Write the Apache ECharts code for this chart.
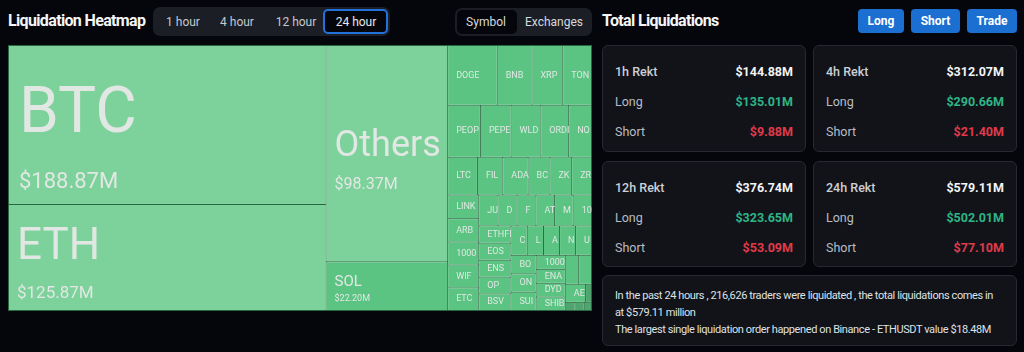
<!DOCTYPE html>
<html>
<head>
<meta charset="utf-8">
<script src="https://cdn.jsdelivr.net/npm/echarts@6/dist/echarts.min.js"></script>
<style>
  html, body { margin: 0; padding: 0; }
  body { width: 1024px; height: 352px; overflow: hidden; background: #05060b; font-family: Roboto, "Noto Sans", sans-serif; color: #fff; position: relative; }
  .abs { position: absolute; }
  .h1 { font-weight: 700; font-size: 16px; letter-spacing: -0.65px; line-height: 20px; color: #f4f5f7; }
  .seg { background: #1b1e25; border-radius: 7px; }
  .segtxt { font-size: 12px; color: #c4c8cf; line-height: 16px; transform: translateX(-50%); white-space: nowrap; }
  .sel { background: #05060b; border-radius: 5px; box-sizing: border-box; }
  .btn { background: #1b6fd1; border-radius: 4px; font-weight: 700; font-size: 12px; color: #fff; text-align: center; line-height: 24px; height: 24px; }
  .card { background: #111318; border: 1px solid #262930; border-radius: 6px; box-sizing: border-box; }
  .row { position: absolute; left: 12px; right: 12px; height: 16px; line-height: 16px; font-size: 12.5px; }
  .row span { position: absolute; }
  .row .k { left: 0; color: #b9bdc5; }
  .row .v { right: 0; font-weight: 700; }
  .info { font-size: 11px; line-height: 17px; color: #dfe2e6; letter-spacing: -0.4px; white-space: nowrap; }
  #heat { position: absolute; left: 8px; top: 45px; width: 584px; height: 266px; }
</style>
</head>
<body>
<div class="abs h1" style="left:8px;top:11px;">Liquidation Heatmap</div>
<div class="abs seg" style="left:153px;top:7px;width:237px;height:29px;"></div>
<div class="abs sel" style="left:323px;top:9px;width:65px;height:25px;border:2px solid #2372dc;"></div>
<div id="ranges"></div>
<div class="abs seg" style="left:455px;top:8px;width:137px;height:28px;"></div>
<div class="abs sel" style="left:457px;top:10px;width:60px;height:24px;"></div>
<div class="abs segtxt" style="left:486px;top:14px;color:#d6d9de;">Symbol</div>
<div class="abs segtxt" style="left:554px;top:14px;color:#d6d9de;">Exchanges</div>

<div class="abs h1" style="left:602px;top:11px;">Total Liquidations</div>
<div class="abs btn" style="left:858px;top:9px;width:46px;">Long</div>
<div class="abs btn" style="left:911px;top:9px;width:49px;">Short</div>
<div class="abs btn" style="left:967px;top:9px;width:50px;">Trade</div>

<div id="cards"></div>
<div class="abs card" style="left:602px;top:275px;width:415px;height:71px;">
  <div class="abs info" style="left:12px;top:11px;">
    In the past 24 hours , 216,626 traders were liquidated , the total liquidations comes in<br>
    at $579.11 million<br>
    The largest single liquidation order happened on Binance - ETHUSDT value $18.48M
  </div>
</div>

<div id="heat"></div>

<script>
// time range tabs
var ranges = ['1 hour', '4 hour', '12 hour', '24 hour'];
var rangeX = [183, 237, 296, 356];

// rekt summary cards
var periods = ['1h Rekt', '4h Rekt', '12h Rekt', '24h Rekt'];
var totals = ['$144.88M', '$312.07M', '$376.74M', '$579.11M'];
var longs = ['$135.01M', '$290.66M', '$323.65M', '$502.01M'];
var shorts = ['$9.88M', '$21.40M', '$53.09M', '$77.10M'];

// 24h liquidations by symbol (million USD)
var coins = ['BTC', 'ETH', 'Others', 'SOL', 'DOGE', 'BNB', 'XRP', 'TON',
    'PEOPLE', 'PEPE', 'WLD', 'ORDI', 'NOT', 'LTC', 'FIL', 'ADA', 'BCH', 'ZK', 'ZRO',
    'LINK', 'ARB', '1000FLOKI', 'WIF', 'ETC', 'JUP', 'DOT', 'FTM', 'ATOM', 'MEW', '1000SATS',
    'ETHFI', 'EOS', 'ENS', 'OP', 'BSV', 'CFX', 'LDO', 'AVAX', 'NEAR', 'UNI',
    'BOME', 'ONDO', 'SUI', '1000BONK', 'ENA', 'DYDX', 'SHIB', 'RNDR', 'OM', 'AEVO',
    'EIGEN', 'TIA', 'APT', 'ARKM'];
var liq = [188.87, 125.87, 98.37, 22.20, 11.1, 7.77, 6.88, 6.44,
    6.35, 5.96, 5.77, 5.39, 4.43, 4.22, 3.6, 3.58, 3.1, 3.08, 2.81,
    2.75, 2.71, 2.68, 2.66, 2.63, 2.22, 2.2, 2.18, 2.16, 2.14, 2.12,
    2.08, 2.06, 2.04, 2.02, 2.0, 1.79, 1.78, 1.77, 1.76, 1.75,
    1.74, 1.73, 1.72, 1.53, 1.52, 1.5, 1.47, 1.45, 1.39, 1.37,
    0.4, 0.3, 0.28, 0.22];

var html = '';
for (var i = 0; i < ranges.length; i++) {
    html += '<div class="abs segtxt" style="left:' + rangeX[i] + 'px;top:14px;' +
        (i === 3 ? 'color:#e6e8ec;' : '') + '">' + ranges[i] + '</div>';
}
document.getElementById('ranges').innerHTML = html;

html = '';
for (var j = 0; j < periods.length; j++) {
    var cx = j % 2 === 0 ? 602 : 813;
    var cy = j < 2 ? 45 : 161;
    html += '<div class="abs card" style="left:' + cx + 'px;top:' + cy + 'px;width:204px;height:' + (j < 2 ? 107 : 106) + 'px;">' +
        '<div class="row" style="top:18px;"><span class="k" style="color:#ccd0d6;font-weight:500;">' + periods[j] + '</span><span class="v" style="color:#f3f4f6;">' + totals[j] + '</span></div>' +
        '<div class="row" style="top:48px;"><span class="k">Long</span><span class="v" style="color:#2fb487;">' + longs[j] + '</span></div>' +
        '<div class="row" style="top:78px;"><span class="k">Short</span><span class="v" style="color:#e03a4b;">' + shorts[j] + '</span></div>' +
        '</div>';
}
document.getElementById('cards').innerHTML = html;

// label size classes, picked by block value
function sizeClass(v) {
    if (v >= 150) return { n: 64, s: 22, ln: 115, lv: 19, pad: 10 };
    if (v >= 110) return { n: 44, s: 17, ln: 72, lv: 20, pad: 8 };
    if (v >= 50) return { n: 36, s: 16, ln: 63, lv: 13, pad: 8 };
    if (v >= 15) return { n: 15, s: 9, ln: 26, lv: 8, pad: 8 };
    return { n: 9, s: 0, ln: 12, lv: 0, pad: 8 };
}

function labelFor(name, v, cellH) {
    var c = sizeClass(v);
    var top = cellH ? Math.max(0, (cellH - c.ln - c.lv) / 2) : 0;
    var rich = { n: { fontSize: c.n, lineHeight: c.ln, color: '#e1e7e3', fontFamily: 'Roboto' } };
    if (c.s) rich.v = { fontSize: c.s, lineHeight: c.lv, color: '#e1e7e3', fontFamily: 'Roboto' };
    return {
        padding: [top, -2, 0, c.pad],
        rich: rich,
        formatter: c.s ? '{n|' + name + '}\n{v|$' + v.toFixed(2) + 'M}' : '{n|' + name + '}'
    };
}

function buildData(heights) {
    return coins.map(function (c, k) {
        var v = liq[k];
        return {
            name: c,
            value: v,
            itemStyle: { color: v >= 50 ? '#7dd29b' : (v < 1 ? '#4ea56d' : '#5bc482') },
            label: labelFor(c, v, heights ? heights[c] : 0)
        };
    });
}

var chart = echarts.init(document.getElementById('heat'));
chart.setOption({
    animation: false,
    series: [{
        type: 'treemap',
        left: 0, top: 0, width: '100%', height: '100%',
        roam: false,
        nodeClick: false,
        breadcrumb: { show: false },
        levels: [
            { itemStyle: { borderColor: '#2a6640', borderWidth: 1, gapWidth: 1 } },
            { itemStyle: { borderWidth: 0 } }
        ],
        label: {
            show: true,
            position: 'insideLeft',
            overflow: 'truncate',
            ellipsis: '',
            color: '#e1e7e3'
        },
        data: buildData(null)
    }]
});

// second pass: centre each label vertically in the cell treemap laid out
var tree = chart.getModel().getSeriesByIndex(0).getData().tree;
var heights = {};
tree.root.children.forEach(function (node) {
    var lay = node.getLayout();
    if (lay) heights[node.name] = lay.height;
});
chart.setOption({ series: [{ data: buildData(heights) }] });
</script>
</body>
</html>
